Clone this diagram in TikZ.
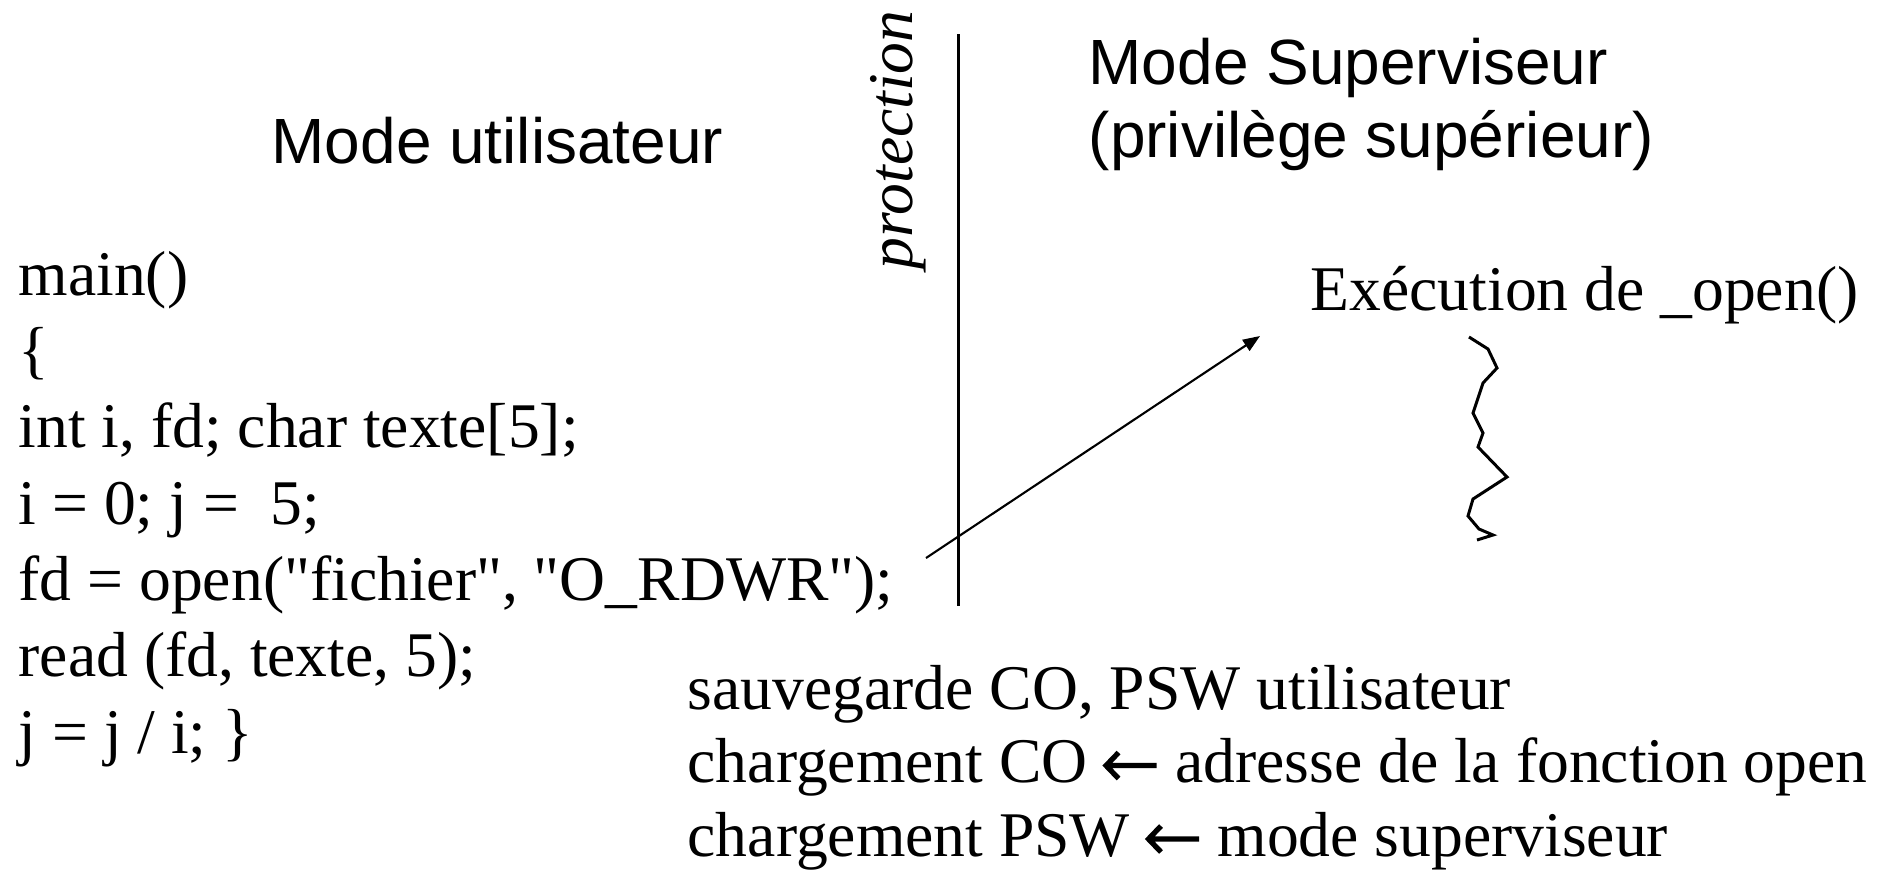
\documentclass[tikz,border=0pt]{standalone}
\usepackage{fontspec}
\setmainfont{Liberation Serif}[Ligatures=TeXOff]
\setsansfont{Liberation Sans}
\usetikzlibrary{arrows.meta}
\newcommand{\larr}{\tikz[baseline=0pt] \draw[line width=1.5pt, line join=miter] (0.14,0.30) -- (0.015,0.17) -- (0.14,0.04) (0.015,0.17) -- (0.52,0.17);}

\begin{document}
\begin{tikzpicture}[
  txt/.style={font=\fontsize{18.1}{21.7}\selectfont, inner sep=0pt, anchor=base west, align=left},
  ttl/.style={font=\sffamily\fontsize{18.2}{20.5}\selectfont, inner sep=0pt, anchor=base west, align=left},
  arr/.style={-{Triangle[length=1.7mm, width=1.3mm]}, line width=0.6pt}]
\useasboundingbox (0,0) rectangle (18.9,-8.74);
% multi-line nodes: base = last line
\node[ttl] (user)  at (2.71,-1.63)  {Mode utilisateur};
\node[ttl] (super) at (10.88,-1.57) {Mode Superviseur\\(privilège supérieur)};
\node[font=\itshape\fontsize{18.1}{20}\selectfont, rotate=90, inner sep=0pt] (prot) at (8.98,-1.40) {protection};
\node[txt] (code)  at (0.18,-7.53)  {main()\\\{\\int i, fd; char texte[5];\\i = 0; j = ~5;\\fd = open("fichier", "O\_RDWR");\\read (fd, texte, 5);\\j = j / i; \}};
\node[txt] (exec)  at (13.10,-3.10) {Exécution de \_open()};
\node[txt, font=\fontsize{18.1}{20.9}\selectfont] (steps) at (6.87,-8.56) {sauvegarde CO, PSW utilisateur\\chargement CO \larr{} adresse de la fonction open\\chargement PSW \larr{} mode superviseur};
% frontiere
\draw[line width=0.85pt] (9.58,-0.34) -- (9.58,-6.06);
% appel systeme
\coordinate (callsrc) at (9.26,-5.58);
\coordinate (calldst) at (12.60,-3.36);
\draw[arr] (callsrc) -- (calldst);
% execution du noyau
\draw[line width=0.85pt] (14.69,-3.37) -- (14.88,-3.49) -- (14.97,-3.68) -- (14.83,-3.83) -- (14.73,-4.13) -- (14.83,-4.33) -- (14.78,-4.47) -- (15.07,-4.77) -- (14.73,-4.99) -- (14.68,-5.16) -- (14.79,-5.29) -- (14.93,-5.35) -- (14.77,-5.40);
\end{tikzpicture}
\end{document}
